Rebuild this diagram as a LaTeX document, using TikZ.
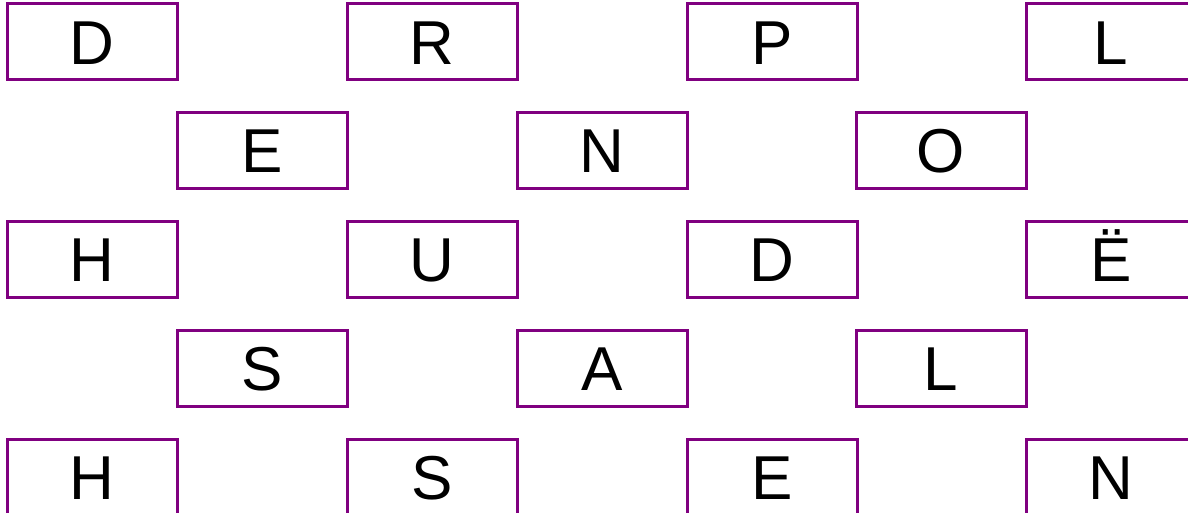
\documentclass[tikz,border=0pt]{standalone}
\usepackage{fontspec}
\setmainfont{Liberation Sans}
\definecolor{boxpurple}{HTML}{800080}
\begin{document}
\begin{tikzpicture}[x=1pt,y=-1pt,
  letterbox/.style={draw=boxpurple,line width=3pt,minimum width=170pt,minimum height=76pt,inner sep=0pt,
    text height=44.5pt,text depth=0pt,
    font=\fontsize{62}{70}\selectfont,text=black}]
\useasboundingbox (0,0) rectangle (1188,513);
% row 1
\node[letterbox] (r1a) at (92,42) {D};
\node[letterbox] (r1b) at (432,42) {R};
\node[letterbox] (r1c) at (772,42) {P};
\node[letterbox] (r1d) at (1111,42) {L};
% row 2
\node[letterbox] (r2a) at (262,150.5) {E};
\node[letterbox] (r2b) at (602,150.5) {N};
\node[letterbox] (r2c) at (941,150.5) {O};
% row 3
\node[letterbox] (r3a) at (92,259.5) {H};
\node[letterbox] (r3b) at (432,259.5) {U};
\node[letterbox] (r3c) at (772,259.5) {D};
\node[letterbox] (r3d) at (1111,259.5) {Ё};
% row 4
\node[letterbox] (r4a) at (262,368) {S};
\node[letterbox] (r4b) at (602,368) {A};
\node[letterbox] (r4c) at (941,368) {L};
% row 5
\node[letterbox] (r5a) at (92,477) {H};
\node[letterbox] (r5b) at (432,477) {S};
\node[letterbox] (r5c) at (772,477) {E};
\node[letterbox] (r5d) at (1111,477) {N};
\end{tikzpicture}
\end{document}
